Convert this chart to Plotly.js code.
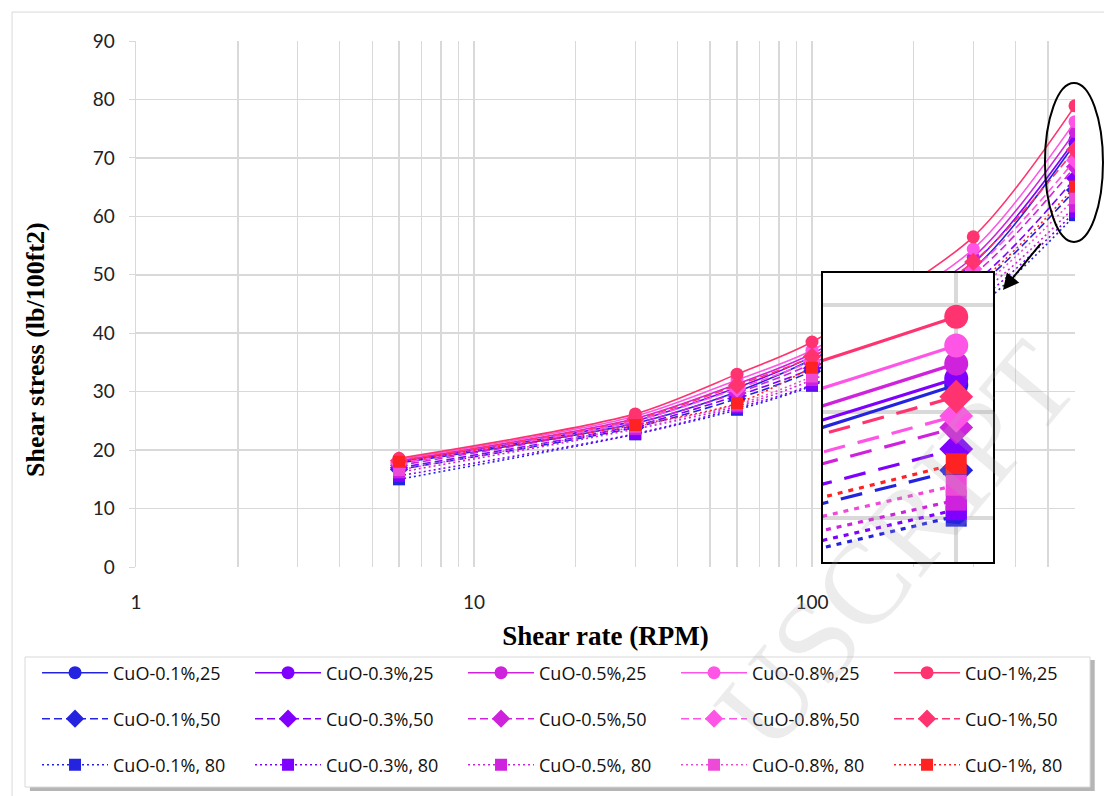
<!DOCTYPE html>
<html>
<head>
<meta charset="utf-8">
<script src="https://cdn.plot.ly/plotly-3.0.1.min.js"></script>
<style>html,body{margin:0;padding:0;background:#fff;}#chart{width:1104px;height:796px;}</style>
</head>
<body>
<div id="chart"></div>
<script>
// ---- data ----
const rpm = [6, 30, 60, 100, 300, 600];

const cuo01_25 = [17.8, 24.6, 30.0, 35.5, 51.0, 72.5];
const cuo03_25 = [18.0, 25.0, 30.7, 36.0, 52.0, 73.1];
const cuo05_25 = [18.2, 25.4, 31.3, 36.5, 53.0, 74.5];
const cuo08_25 = [18.4, 25.8, 32.0, 37.1, 54.4, 76.2];
const cuo1_25  = [18.6, 26.2, 33.0, 38.5, 56.5, 78.9];

const cuo01_50 = [16.7, 23.9, 28.8, 33.5, 47.5, 64.5];
const cuo03_50 = [17.0, 24.2, 29.3, 34.0, 48.5, 66.5];
const cuo05_50 = [17.4, 24.6, 29.8, 34.8, 50.0, 68.5];
const cuo08_50 = [17.8, 25.0, 30.5, 35.3, 51.0, 69.6];
const cuo1_50  = [18.2, 25.3, 31.1, 36.0, 52.2, 71.4];

const cuo01_80 = [15.0, 22.7, 26.9, 31.0, 44.0, 60.2];
const cuo03_80 = [15.6, 22.8, 27.2, 31.2, 45.0, 60.8];
const cuo05_80 = [16.2, 23.6, 27.5, 32.0, 46.0, 61.7];
const cuo08_80 = [16.6, 24.0, 27.8, 32.6, 47.0, 63.1];
const cuo1_80  = [18.0, 24.3, 28.0, 34.1, 48.0, 65.1];

const names25 = ['CuO-0.1%,25', 'CuO-0.3%,25', 'CuO-0.5%,25', 'CuO-0.8%,25', 'CuO-1%,25'];
const names50 = ['CuO-0.1%,50', 'CuO-0.3%,50', 'CuO-0.5%,50', 'CuO-0.8%,50', 'CuO-1%,50'];
const names80 = ['CuO-0.1%, 80', 'CuO-0.3%, 80', 'CuO-0.5%, 80', 'CuO-0.8%, 80', 'CuO-1%, 80'];

const xTickVals = [1,2,3,4,5,6,7,8,9,10,20,30,40,50,60,70,80,90,100,200,300,400,500,600];
const xTickText = ['1','','','','','','','','','10','','','','','','','','','100','','','','',''];
const yTickVals = [0,10,20,30,40,50,60,70,80,90];

const xTitle = 'Shear rate (RPM)';
const yTitle = 'Shear stress (lb/100ft2)';

// ---- styling ----
const colors25 = ['#2424E0', '#8000FF', '#CF22DC', '#FF55E6', '#FF336F'];
const colors50 = ['#2424E0', '#8000FF', '#CF22DC', '#FF55E6', '#FF336F'];
const colors80 = ['#2424E0', '#8000FF', '#CF22DC', '#EE4AD8', '#FF2222'];

const groups = [
  {series: [cuo01_25, cuo03_25, cuo05_25, cuo08_25, cuo1_25], names: names25, colors: colors25,
   symbol: 'circle', dash: 'solid', insetDash: 'solid', legend: 'legend', msize: 13, inMsize: 24},
  {series: [cuo01_50, cuo03_50, cuo05_50, cuo08_50, cuo1_50], names: names50, colors: colors50,
   symbol: 'diamond', dash: '8px,4px', insetDash: '22px,13px', legend: 'legend2', msize: 14, inMsize: 26},
  {series: [cuo01_80, cuo03_80, cuo05_80, cuo08_80, cuo1_80], names: names80, colors: colors80,
   symbol: 'square', dash: '2px,3px', insetDash: '5px,6px', legend: 'legend3', msize: 12, inMsize: 21}
];

const traces = [];
groups.forEach(g => {
  g.series.forEach((ys, i) => {
    traces.push({
      x: rpm, y: ys, name: g.names[i], type: 'scatter', mode: 'lines+markers',
      xaxis: 'x', yaxis: 'y', legend: g.legend,
      line: {color: g.colors[i], width: 1.6, dash: g.dash, shape: 'spline', smoothing: 0.8},
      marker: {color: g.colors[i], size: g.msize, symbol: g.symbol}
    });
  });
});
// magnified inset (same data)
groups.forEach(g => {
  g.series.forEach((ys, i) => {
    traces.push({
      x: rpm, y: ys, name: g.names[i], type: 'scatter', mode: 'lines+markers',
      xaxis: 'x2', yaxis: 'y2', showlegend: false, hoverinfo: 'skip',
      line: {color: g.colors[i], width: 3.2, dash: g.insetDash, shape: 'spline', smoothing: 0.8},
      marker: {color: g.colors[i], size: g.inMsize, symbol: g.symbol}
    });
  });
});

const tickFont = {family: 'Lato, "Liberation Sans", sans-serif', size: 19, color: '#222'};
const legFont = {family: '"Open Sans", Lato, sans-serif', size: 18, color: '#111'};
const titleFont = {family: '"Liberation Serif", "Times New Roman", serif', size: 27, weight: 'bold', color: '#000'};
const yTitleFont = {family: '"Liberation Serif", "Times New Roman", serif', size: 26, weight: 'bold', color: '#000'};
function legendAt(y) {
  return {orientation: 'h', x: -0.1054, xanchor: 'left', y: y, yanchor: 'middle',
          font: legFont, itemwidth: 66, entrywidth: 132, entrywidthmode: 'pixels',
          bgcolor: 'rgba(0,0,0,0)', borderwidth: 0, traceorder: 'normal'};
}

const layout = {
  width: 1104, height: 796,
  margin: {l: 136, r: 29, t: 41, b: 229},
  paper_bgcolor: '#fff', plot_bgcolor: '#fff',
  xaxis: {
    type: 'log', range: [0, Math.log10(600)], tickvals: xTickVals, ticktext: xTickText,
    showgrid: true, gridcolor: '#d9d9d9', gridwidth: 1.5, zeroline: false,
    showline: false, ticks: '', tickfont: tickFont, ticklabelstandoff: 22,
    title: {text: xTitle, standoff: 14, font: titleFont}
  },
  yaxis: {
    range: [0, 90], tickvals: yTickVals, showgrid: true, gridcolor: '#d9d9d9', gridwidth: 1.5,
    zeroline: false, showline: true, linecolor: '#d9d9d9', linewidth: 1.5,
    ticks: 'outside', ticklen: 6, tickcolor: '#d9d9d9', tickfont: tickFont, ticklabelstandoff: 10
  },
  xaxis2: {
    type: 'log', range: [2.728, 2.792], domain: [0.7316, 0.9127], anchor: 'y2',
    tickvals: [600], showticklabels: false, ticks: '', showgrid: true, gridcolor: '#d9d9d9', gridwidth: 4,
    zeroline: false, showline: true, mirror: true, linecolor: '#000', linewidth: 2
  },
  yaxis2: {
    range: [55.9, 83], domain: [0.0095, 0.559], anchor: 'x2',
    tickvals: [60, 70, 80], showticklabels: false, ticks: '', showgrid: true, gridcolor: '#d9d9d9', gridwidth: 4,
    zeroline: false, showline: true, mirror: true, linecolor: '#000', linewidth: 2
  },
  legend: legendAt(-0.2015),
  legend2: legendAt(-0.289),
  legend3: legendAt(-0.3764),
  showlegend: true,
  shapes: [
    // outer chart border
    {type: 'rect', xref: 'paper', yref: 'paper', x0: -0.132, x1: 1.2, y0: -0.6, y1: 1.055,
     line: {color: '#d9d9d9', width: 1}, fillcolor: 'rgba(0,0,0,0)', layer: 'below'},
    // legend shadow
    {type: 'rect', xref: 'paper', yref: 'paper', x0: -0.113, x1: 1.021, y0: -0.4260, y1: -0.1768,
     line: {width: 0}, fillcolor: '#b5b5b5', layer: 'below'},
    // legend box
    {type: 'rect', xref: 'paper', yref: 'paper', x0: -0.1182, x1: 1.016, y0: -0.4183, y1: -0.1711,
     line: {color: '#d9d9d9', width: 1}, fillcolor: '#fff', layer: 'below'},
    // inset background
    {type: 'rect', xref: 'x2 domain', yref: 'y2 domain', x0: 0, x1: 1, y0: 0, y1: 1,
     line: {width: 0}, fillcolor: '#fff', layer: 'below'},
    // ellipse around the 600 RPM points
    {type: 'circle', xref: 'paper', yref: 'paper', x0: 0.968, x1: 1.0298, y0: 0.618, y1: 0.920,
     line: {color: '#000', width: 2}, fillcolor: 'rgba(0,0,0,0)', layer: 'above'}
  ],
  annotations: [
    // y-axis title (placed as in the reference, slightly below the axis centre)
    {xref: 'paper', yref: 'paper', x: -0.1065, y: 0.4145, xanchor: 'center', yanchor: 'middle',
     text: yTitle, textangle: -90, showarrow: false, font: yTitleFont},
    {xref: 'paper', yref: 'paper', x: 0.9233, y: 0.5266, text: '', showarrow: true,
     ax: 39, ay: -48, arrowhead: 2, arrowsize: 1.6, arrowwidth: 2, arrowcolor: '#000'},
    // faint "accepted manuscript" watermark visible in the reference
    {xref: 'paper', yref: 'paper', x: 0.81, y: 0.04, xanchor: 'center', yanchor: 'middle',
     text: 'USCRIPT', showarrow: false, textangle: -50,
     font: {family: '"Liberation Serif", serif', size: 118, color: 'rgba(170,170,170,0.22)'}}
  ]
};

Plotly.newPlot('chart', traces, layout, {displayModeBar: false, staticPlot: true});
</script>
</body>
</html>
